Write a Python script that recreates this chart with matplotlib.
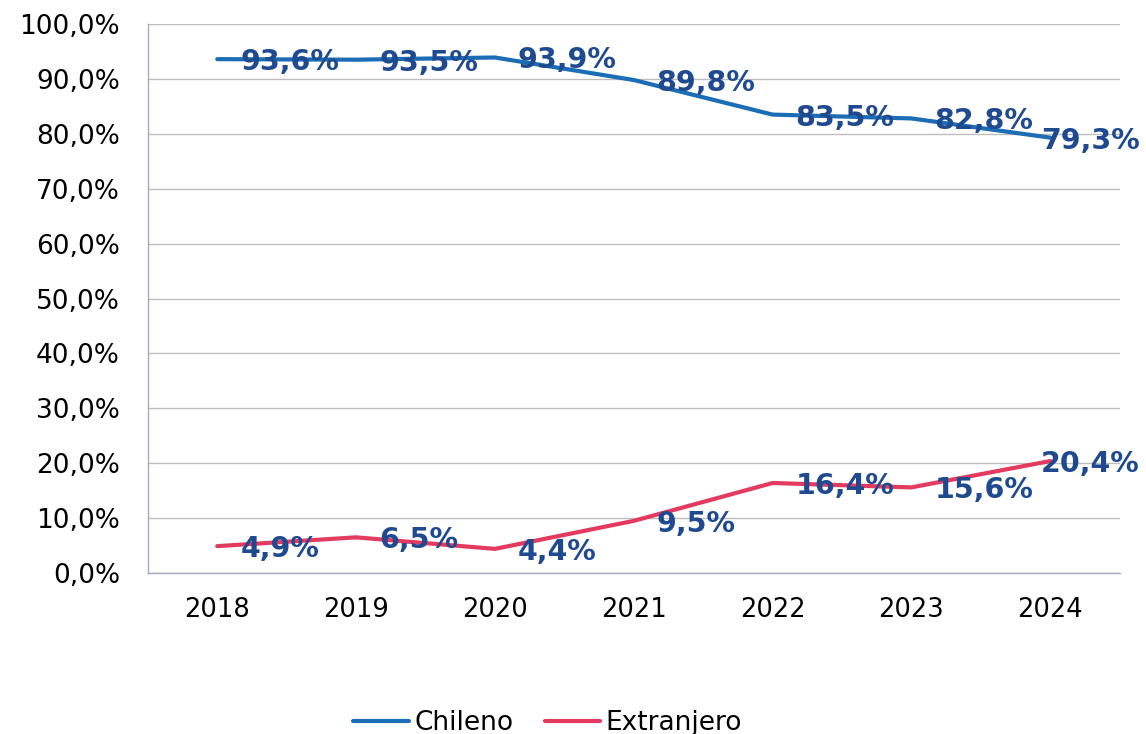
import matplotlib
matplotlib.use("Agg")
import matplotlib.pyplot as plt
from matplotlib.ticker import FuncFormatter
from matplotlib.transforms import offset_copy

years = ["2018", "2019", "2020", "2021", "2022", "2023", "2024"]
chileno = [93.6, 93.5, 93.9, 89.8, 83.5, 82.8, 79.3]
extranjero = [4.9, 6.5, 4.4, 9.5, 16.4, 15.6, 20.4]
yticks = [0, 10, 20, 30, 40, 50, 60, 70, 80, 90, 100]

blue = "#1b6db5"
red = "#e43a60"
label_color = "#1f4a8f"

fig = plt.figure(figsize=(11.46, 7.34), dpi=100)
ax = fig.add_axes([0.129, 0.2193, 0.848, 0.7480])

x = list(range(len(years)))
ax.plot(x, chileno, color=blue, lw=3, label="Chileno", solid_capstyle="round")
ax.plot(x, extranjero, color=red, lw=3, label="Extranjero", solid_capstyle="round")

ax.set_xlim(-0.5, 6.5)
ax.set_ylim(0, 100)
ax.set_yticks(yticks)
ax.yaxis.set_major_formatter(FuncFormatter(lambda v, p: f"{v:.1f}%".replace(".", ",")))
ax.set_xticks(x)
ax.set_xticklabels(years)

ax.grid(axis="y", color="#bdbdbd", lw=1)
ax.set_axisbelow(True)
for s in ["top", "right"]:
    ax.spines[s].set_visible(False)
for s in ["left", "bottom"]:
    ax.spines[s].set_color("#a3aac2")
    ax.spines[s].set_linewidth(1)
ax.tick_params(axis="y", length=0, pad=20, labelsize=19)
ax.tick_params(axis="x", length=0, pad=17, labelsize=18.5)

trans = offset_copy(ax.transData, fig=fig, x=23, y=-3, units="dots")
for series in (chileno, extranjero):
    for i, v in enumerate(series):
        txt = f"{v:.1f}%".replace(".", ",")
        if i == len(series) - 1:
            t = offset_copy(ax.transData, fig=fig, x=-9, y=-3, units="dots")
        else:
            t = trans
        ax.text(i, v, txt, transform=t, ha="left", va="center",
                fontsize=20.5, fontweight="bold", color=label_color, clip_on=False)

leg = fig.legend(loc="lower center", bbox_to_anchor=(0.478, -0.035), ncol=2, frameon=False,
                 fontsize=19, handlelength=2.1, handletextpad=0.2, columnspacing=1.2)
for line in leg.get_lines():
    line.set_linewidth(3)

fig.savefig("out.png", dpi=100)
